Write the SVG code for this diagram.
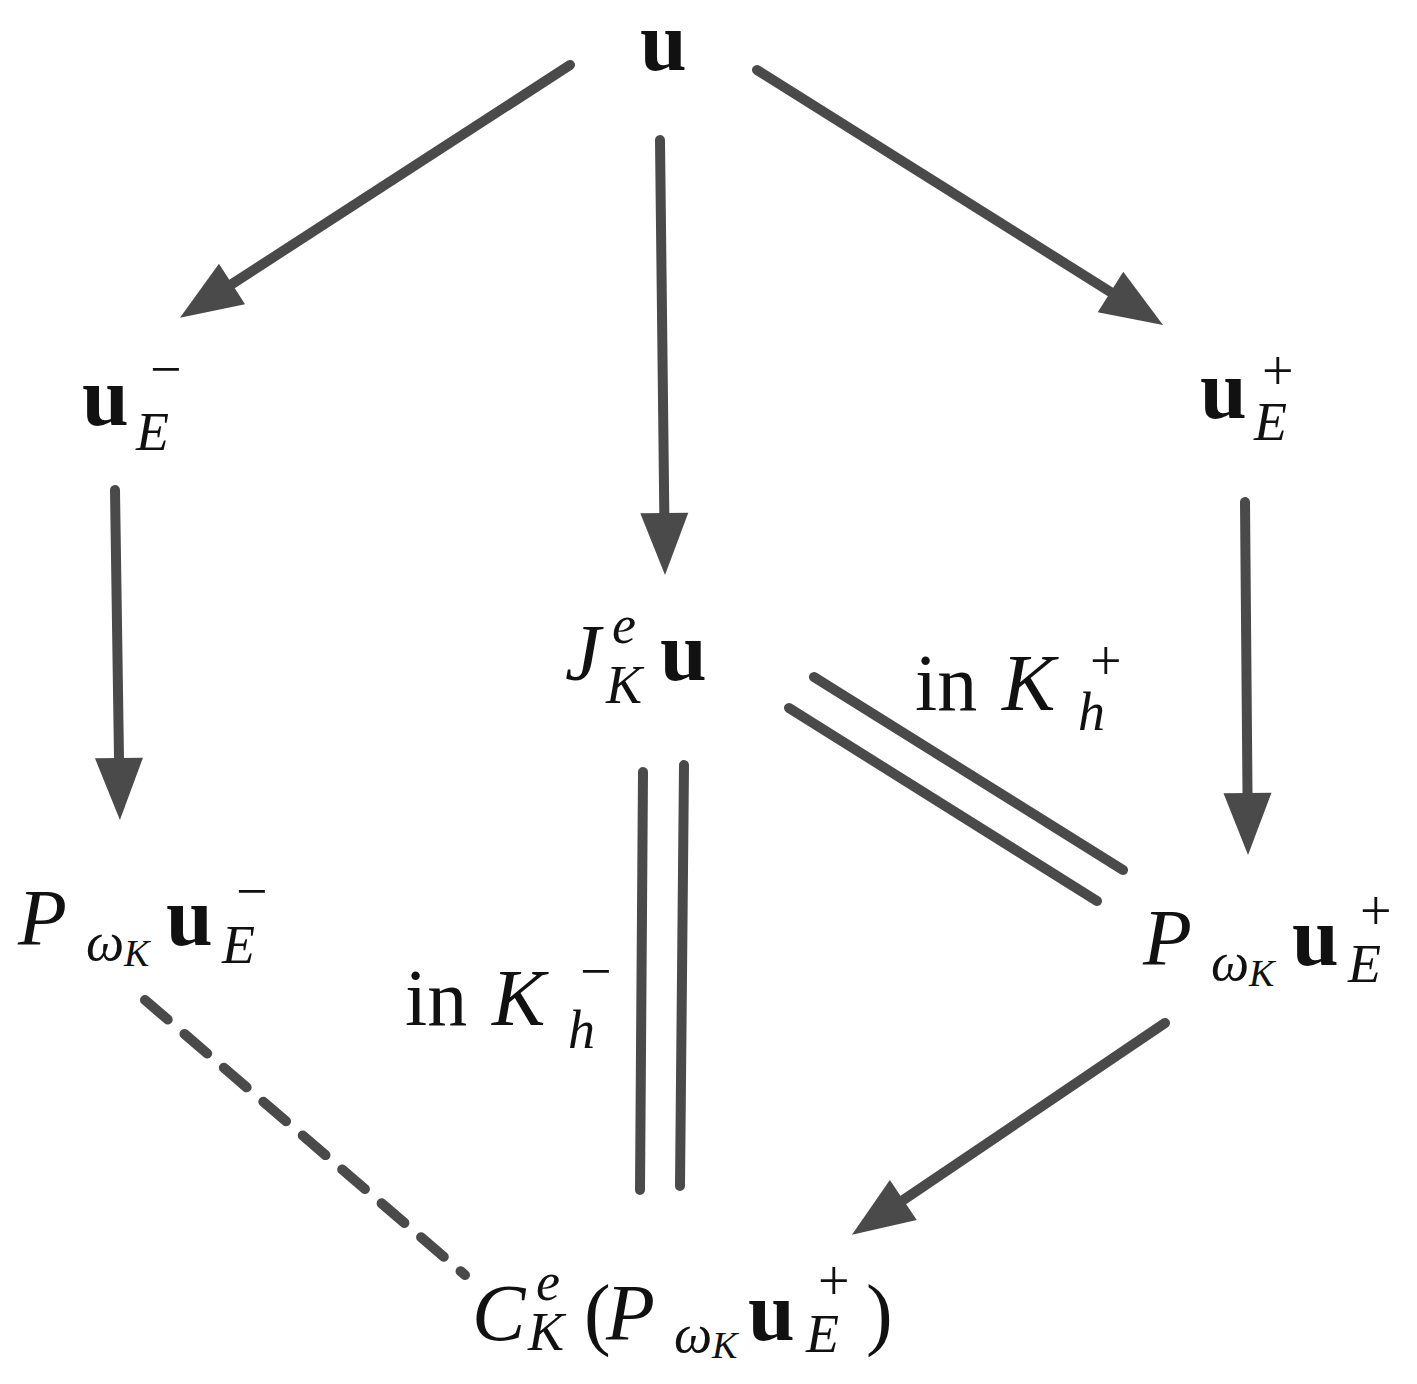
<svg xmlns="http://www.w3.org/2000/svg" width="1417" height="1384" viewBox="0 0 1417 1384">
<style>
.c{stroke:#4a4a4a;stroke-width:10;fill:none;stroke-linecap:round}
text{font-family:"Liberation Serif","DejaVu Serif",serif;fill:#111}
.b{font-weight:bold;font-size:84px}
.i{font-style:italic;font-size:80px}
.s{font-style:italic;font-size:54px}
.t{font-style:italic;font-size:38px}
.r{font-size:80px}
.m{font-size:56px}
</style>
<defs>
<marker id="a" markerUnits="userSpaceOnUse" markerWidth="70" markerHeight="50" refX="0" refY="24" orient="auto" overflow="visible">
<path d="M0,0 L62,24 L0,48 Z" fill="#4a4a4a"/>
</marker>
</defs>
<rect width="1417" height="1384" fill="#fff"/>
<g id="connectors">
<line class="c" x1="570" y1="65" x2="232" y2="284" marker-end="url(#a)"/>
<line class="c" x1="660" y1="140" x2="664.3" y2="513" marker-end="url(#a)"/>
<line class="c" x1="757" y1="70" x2="1110.5" y2="292" marker-end="url(#a)"/>
<line class="c" x1="115" y1="490" x2="119" y2="758" marker-end="url(#a)"/>
<line class="c" x1="1245" y1="502" x2="1247.5" y2="793" marker-end="url(#a)"/>
<line class="c" x1="1165" y1="1023" x2="903.3" y2="1200" marker-end="url(#a)"/>
<line class="c" x1="643" y1="772" x2="640" y2="1190"/>
<line class="c" x1="684" y1="765" x2="680" y2="1186"/>
<line class="c" x1="814" y1="677" x2="1123" y2="870"/>
<line class="c" x1="789" y1="708" x2="1097" y2="901"/>
<line class="c" x1="145" y1="1000" x2="465" y2="1275" stroke-dasharray="30,22" stroke-linecap="butt"/>
</g>
<g id="n_u"><text class="b" x="640" y="70">u</text></g>
<g id="n_uEm"><text class="b" x="82" y="425">u</text><text class="s" x="136" y="450">E</text><text class="m" x="150" y="388">−</text></g>
<g id="n_uEp"><text class="b" x="1200" y="418">u</text><text class="s" x="1254" y="440">E</text><text class="m" x="1262" y="390">+</text></g>
<g id="n_J"><text class="i" x="565" y="680">J</text><text class="s" x="612" y="643">e</text><text class="s" x="606" y="703">K</text><text class="b" x="660" y="680">u</text></g>
<g id="l_plus"><text class="r" x="915" y="710">in</text><text class="i" x="1002" y="710">K</text><text class="s" x="1078" y="730">h</text><text class="m" x="1090" y="680">+</text></g>
<g id="n_PEm"><text class="i" x="18" y="945">P</text><text class="s" x="86" y="960">ω</text><text class="t" x="124" y="966">K</text><text class="b" x="166" y="945">u</text><text class="s" x="222" y="963">E</text><text class="m" x="236" y="910">−</text></g>
<g id="n_PEp"><text class="i" x="1143" y="965">P</text><text class="s" x="1211" y="980">ω</text><text class="t" x="1249" y="986">K</text><text class="b" x="1292" y="965">u</text><text class="s" x="1348" y="982">E</text><text class="m" x="1360" y="930">+</text></g>
<g id="l_minus"><text class="r" x="405" y="1025">in</text><text class="i" x="492" y="1025">K</text><text class="s" x="568" y="1048">h</text><text class="m" x="580" y="990">−</text></g>
<g id="n_C"><text class="i" x="472" y="1340">C</text><text class="s" x="536" y="1300">e</text><text class="s" x="528" y="1350">K</text><text class="r" x="584" y="1340">(</text><text class="i" x="606" y="1340">P</text><text class="s" x="674" y="1352">ω</text><text class="t" x="712" y="1358">K</text><text class="b" x="748" y="1340">u</text><text class="s" x="806" y="1352">E</text><text class="m" x="818" y="1300">+</text><text class="r" x="866" y="1340">)</text></g>
</svg>
